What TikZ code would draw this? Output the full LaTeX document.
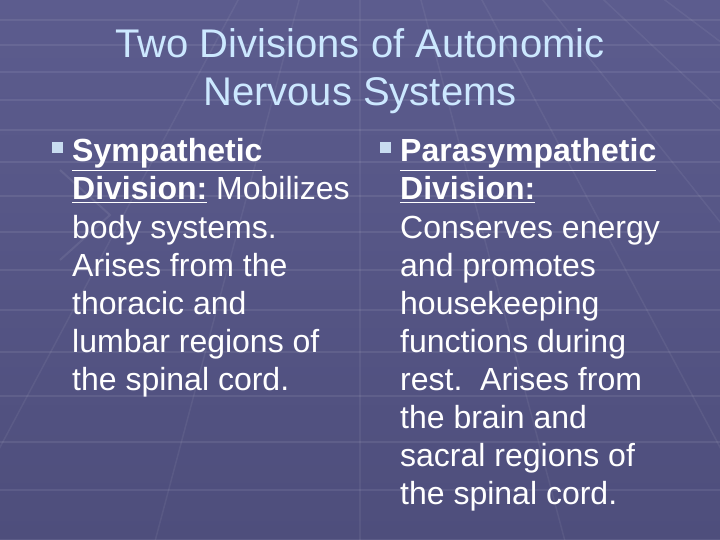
\documentclass[tikz,border=0pt]{standalone}
\usepackage{fontspec}
\setmainfont{Liberation Sans}
\definecolor{bg}{HTML}{5C5C8E}
\definecolor{bgdark}{HTML}{4E4E7C}
\definecolor{titlec}{HTML}{CCE8FF}
\definecolor{bulc}{HTML}{C8DCF0}
\begin{document}
\begin{tikzpicture}[x=1pt,y=-1pt,
  title/.style={anchor=base,text=titlec,font=\fontsize{40}{46}\selectfont,inner sep=0},
  body/.style={anchor=base west,text=white,font=\fontsize{32}{38}\selectfont,inner sep=0},
  bul/.style={fill=bulc,minimum size=11pt,inner sep=0}]
\useasboundingbox (0,0) rectangle (720,540);
\shade[top color=bg,bottom color=bgdark] (0,0) rectangle (720,540);
\foreach \y in {20,45,72,100,130,162,196,232,270,310,352,396,442,490,540}
  \draw[white,opacity=0.08,line width=2pt] (0,\y) -- (720,\y);
\foreach \x in {-300,-150,0,150,300,450,600,750,900}
  \draw[white,opacity=0.06,line width=1.5pt] (360+\x*0.3,-60) -- (360+\x*1.4,560);
\draw[white,opacity=0.08,line width=2pt] (60,170) -- (110,215) -- (60,260);
\node[title] (t1) at (360,58) {Two Divisions of Autonomic};
\node[title] (t2) at (360,106) {Nervous Systems};
\node[bul] (b1) at (57,148) {};
\node[body] (l1) at (72,162) {\underline{\bfseries Sympathetic}};
\node[body] (l2) at (72,200) {\underline{\bfseries Division:} Mobilizes};
\node[body] (l3) at (72,238) {body systems.};
\node[body] (l4) at (72,276) {Arises from the};
\node[body] (l5) at (72,314) {thoracic and};
\node[body] (l6) at (72,352) {lumbar regions of};
\node[body] (l7) at (72,390) {the spinal cord.};
\node[bul] (b2) at (385,148) {};
\node[body] (r1) at (400,162) {\underline{\bfseries Parasympathetic}};
\node[body] (r2) at (400,200) {\underline{\bfseries Division:}};
\node[body] (r3) at (400,238) {Conserves energy};
\node[body] (r4) at (400,276) {and promotes};
\node[body] (r5) at (400,314) {housekeeping};
\node[body] (r6) at (400,352) {functions during};
\node[body] (r7) at (400,390) {rest.\ \ Arises from};
\node[body] (r8) at (400,428) {the brain and};
\node[body] (r9) at (400,466) {sacral regions of};
\node[body] (r10) at (400,504) {the spinal cord.};
\end{tikzpicture}
\end{document}
